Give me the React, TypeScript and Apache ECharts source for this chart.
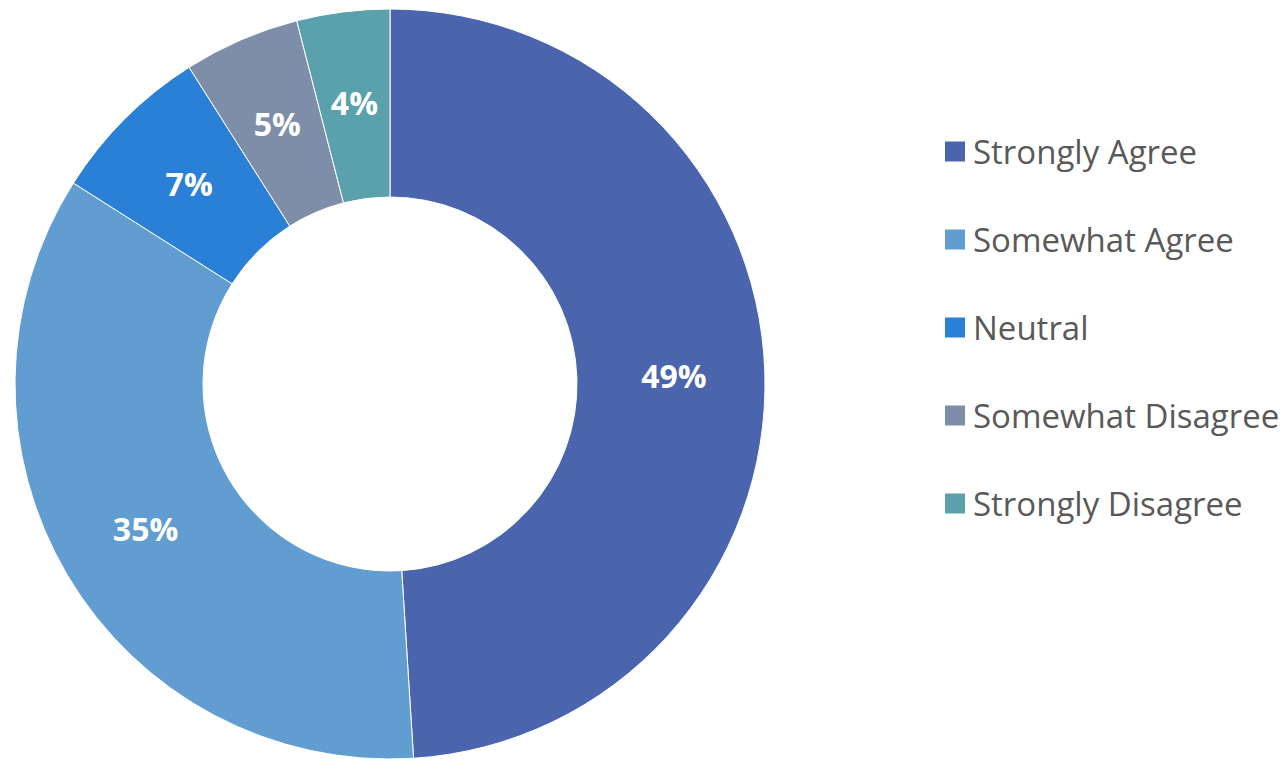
import React, { useEffect, useRef } from "react";
import * as echarts from "echarts";

const categories = ["Strongly Agree", "Somewhat Agree", "Neutral", "Somewhat Disagree", "Strongly Disagree"];
const values = [49, 35, 7, 5, 4];
const colors = ["#4A65AE", "#619DD1", "#2A7FD6", "#7F8EA8", "#5AA1AC"];

export default function App() {
  const ref = useRef<HTMLDivElement>(null);
  useEffect(() => {
    if (!ref.current) return;
    const chart = echarts.init(ref.current, undefined, { renderer: "svg" });
    chart.setOption({
      animation: false,
      backgroundColor: "#ffffff",
      legend: {
        orient: "vertical",
        left: 938,
        top: 130,
        padding: 5,
        itemWidth: 22,
        itemHeight: 22,
        itemGap: 55,
        icon: "rect",
        textStyle: {
          fontFamily: "Open Sans",
          fontSize: 33,
          color: "#595959",
          lineHeight: 30,
          padding: [0, 0, 0, 2],
        },
        data: categories,
      },
      series: [
        {
          type: "pie",
          center: [390, 384],
          radius: [187, 375],
          startAngle: 90,
          clockwise: true,
          avoidLabelOverlap: false,
          itemStyle: { borderColor: "#ffffff", borderWidth: 1 },
          label: {
            show: true,
            position: "inside",
            formatter: "{c}%",
            color: "#ffffff",
            fontFamily: "Open Sans",
            fontWeight: "bold",
            fontSize: 32,
          },
          labelLine: { show: false },
          emphasis: { disabled: true },
          data: categories.map((name, i) => ({
            name,
            value: values[i],
            itemStyle: { color: colors[i] },
          })),
        },
      ],
    });
    return () => chart.dispose();
  }, []);
  return <div ref={ref} style={{ width: 1288, height: 759, position: "absolute", left: 0, top: 0 }} />;
}
